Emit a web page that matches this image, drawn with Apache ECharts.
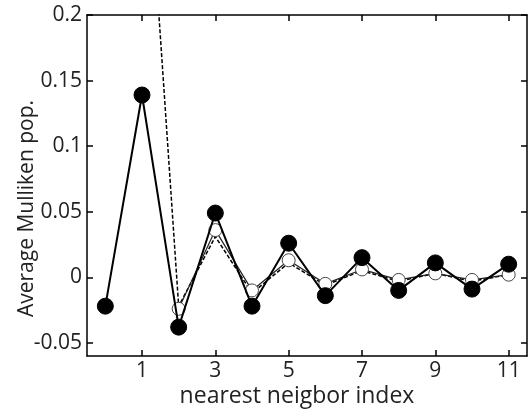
<!DOCTYPE html>
<html>
<head>
<meta charset="utf-8">
<script src="https://cdn.jsdelivr.net/npm/echarts@6/dist/echarts.min.js"></script>
<style>
html,body{margin:0;padding:0;background:#fff}
#main{width:531px;height:409px}
</style>
</head>
<body>
<div id="main"></div>
<script>
// neighbor index on x
var idxFilled=[0,1,2,3,4,5,6,7,8,9,10,11]
var valFilled=[-0.022,0.139,-0.038,0.049,-0.022,0.026,-0.014,0.015,-0.010,0.011,-0.009,0.010]
var idxOpen=[2,3,4,5,6,7,8,9,10,11]
var valOpen=[-0.024,0.036,-0.010,0.013,-0.005,0.006,-0.002,0.003,-0.002,0.002]
var idxDash=[1,2,3,4,5,6,7,8,9,10,11]
var valDash=[0.39,-0.022,0.031,-0.012,0.011,-0.006,0.005,-0.003,0.003,-0.003,0.002]
var xTicks=[1,3,5,7,9,11]
var yTicks=[-0.05,0,0.05,0.1,0.15,0.2]

function pairs(xs,ys){
    var out=[]
    for(var i=0;i<xs.length;i++){ out.push([xs[i],ys[i]]) }
    return out
}

var font="'Open Sans', sans-serif"
var mychart=echarts.init(document.getElementById('main'))

var xBase={
    type:'value', min:-0.5, max:11.5,
    splitLine:{show:false},
    axisLine:{show:true,onZero:false,lineStyle:{color:'#000',width:1.5}},
    axisTick:{show:true,inside:true,length:6,customValues:xTicks,lineStyle:{color:'#000',width:1.5}}
}
var yBase={
    type:'value', min:-0.06, max:0.2,
    splitLine:{show:false},
    axisLine:{show:true,onZero:false,lineStyle:{color:'#000',width:1.5}},
    axisTick:{show:true,inside:true,length:6,customValues:yTicks,lineStyle:{color:'#000',width:1.5}}
}

var option={
    animation:false,
    grid:{left:87,right:4,top:15,bottom:53,outerBoundsMode:'none',containLabel:false},
    xAxis:[
        Object.assign({},xBase,{
            position:'bottom',
            name:'nearest neigbor index',
            nameLocation:'middle',
            nameGap:29,
            nameMoveOverlap:false,
            nameTextStyle:{fontFamily:font,fontSize:23,color:'#222',padding:[0,20,0,0]},
            axisLabel:{show:true,customValues:xTicks,margin:5,fontFamily:font,fontSize:21,color:'#222'}
        }),
        Object.assign({},xBase,{position:'top',axisLabel:{show:false}})
    ],
    yAxis:[
        Object.assign({},yBase,{
            position:'left',
            name:'Average Mulliken pop.',
            nameLocation:'middle',
            nameGap:49,
            nameMoveOverlap:false,
            nameTextStyle:{fontFamily:font,fontSize:21,color:'#222',padding:[0,46,0,0]},
            axisLabel:{show:true,customValues:yTicks,margin:5,fontFamily:font,fontSize:21,color:'#222',
                formatter:function(v){ return String(Math.round(v*100)/100) }}
        }),
        Object.assign({},yBase,{position:'right',axisLabel:{show:false}})
    ],
    series:[
        {
            type:'line',
            data:pairs(idxDash,valDash),
            symbol:'none',
            lineStyle:{color:'#000',width:1.5,type:[4,2]},
            z:2
        },
        {
            type:'line',
            data:pairs(idxOpen,valOpen),
            symbol:'circle',
            symbolSize:13,
            itemStyle:{color:'#fff',borderColor:'#444',borderWidth:1},
            lineStyle:{color:'#222',width:1.2},
            z:3
        },
        {
            type:'line',
            data:pairs(idxFilled,valFilled),
            symbol:'circle',
            symbolSize:16,
            itemStyle:{color:'#000',borderColor:'#000'},
            lineStyle:{color:'#000',width:2},
            z:4
        }
    ]
}
mychart.setOption(option)
</script>
</body>
</html>
